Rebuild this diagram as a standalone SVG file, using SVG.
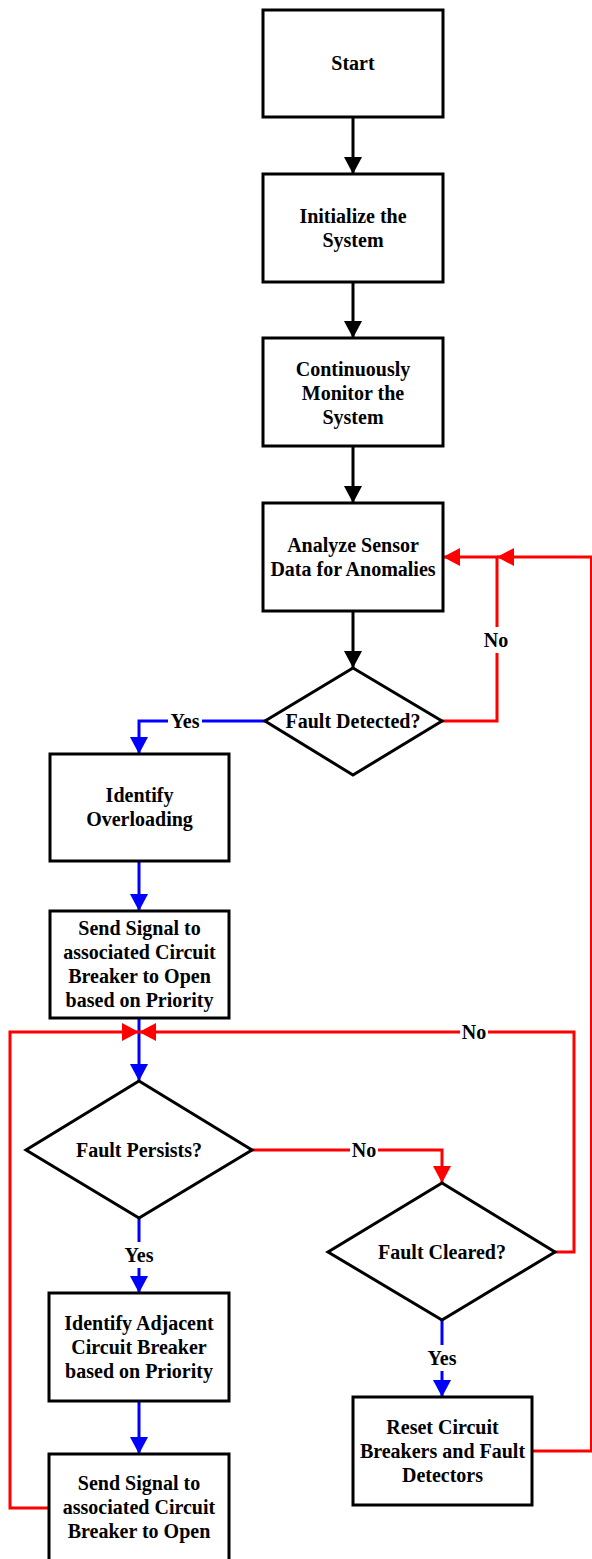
<svg xmlns="http://www.w3.org/2000/svg" width="592" height="1559" viewBox="0 0 592 1559">
<style>
.box{fill:#fff;stroke:#000;stroke-width:3}
.t{font-family:"Liberation Serif","Times New Roman",serif;font-weight:bold;font-size:20px;text-anchor:middle;fill:#000}
.k{fill:none;stroke:#000;stroke-width:3}
.b{fill:none;stroke:#0000ff;stroke-width:3}
.r{fill:none;stroke:#ff0000;stroke-width:3}
.bg{fill:#fff}
</style>
<defs>
<marker id="ak" markerUnits="userSpaceOnUse" markerWidth="18" markerHeight="18" refX="17" refY="9" orient="auto"><path d="M0,0 L17,9 L0,18 z" fill="#000"/></marker>
<marker id="ab" markerUnits="userSpaceOnUse" markerWidth="18" markerHeight="18" refX="17" refY="9" orient="auto"><path d="M0,0 L17,9 L0,18 z" fill="#0000ff"/></marker>
<marker id="ar" markerUnits="userSpaceOnUse" markerWidth="18" markerHeight="18" refX="17" refY="9" orient="auto"><path d="M0,0 L17,9 L0,18 z" fill="#ff0000"/></marker>
</defs>
<g id="connectors">
<path class="k" d="M353,117 V174" marker-end="url(#ak)"/>
<path class="k" d="M353,282 V338" marker-end="url(#ak)"/>
<path class="k" d="M353,446 V503" marker-end="url(#ak)"/>
<path class="k" d="M353,611 V668" marker-end="url(#ak)"/>
<path class="r" d="M442,721 H497 V557 H443" marker-end="url(#ar)"/>
<path class="b" d="M265,721 H139 V754" marker-end="url(#ab)"/>
<path class="b" d="M139,861 V911" marker-end="url(#ab)"/>
<path class="b" d="M139,1018 V1081" marker-end="url(#ab)"/>
<path class="r" d="M252,1150 H442 V1183" marker-end="url(#ar)"/>
<path class="b" d="M139,1218 V1293" marker-end="url(#ab)"/>
<path class="b" d="M139,1401 V1454" marker-end="url(#ab)"/>
<path class="r" d="M49,1508 H10 V1032 H139" marker-end="url(#ar)"/>
<path class="r" d="M555,1252 H574 V1032 H139" marker-end="url(#ar)"/>
<path class="b" d="M442,1320 V1397" marker-end="url(#ab)"/>
<path class="r" d="M532,1451 H591.5 V557 H497" marker-end="url(#ar)"/>
<rect class="bg" x="482" y="627" width="28" height="26"/>
<text class="t" x="496" y="647">No</text>
<rect class="bg" x="168" y="708" width="34" height="26"/>
<text class="t" x="185" y="728">Yes</text>
<rect class="bg" x="350" y="1137" width="28" height="26"/>
<text class="t" x="364" y="1157">No</text>
<rect class="bg" x="122" y="1242" width="34" height="26"/>
<text class="t" x="139" y="1262">Yes</text>
<rect class="bg" x="460" y="1019" width="28" height="26"/>
<text class="t" x="474" y="1039">No</text>
<rect class="bg" x="425" y="1345" width="34" height="26"/>
<text class="t" x="442" y="1365">Yes</text>
</g>
<g id="start"><rect class="box" x="263" y="10" width="180" height="107"/><text class="t" x="353" y="70">Start</text></g>
<g id="init"><rect class="box" x="263" y="174" width="180" height="108"/><text class="t" x="353" y="223">Initialize the</text><text class="t" x="353" y="247">System</text></g>
<g id="monitor"><rect class="box" x="263" y="338" width="180" height="108"/><text class="t" x="353" y="376">Continuously</text><text class="t" x="353" y="400">Monitor the</text><text class="t" x="353" y="424">System</text></g>
<g id="analyze"><rect class="box" x="263" y="503" width="180" height="108"/><text class="t" x="353" y="552">Analyze Sensor</text><text class="t" x="353" y="576">Data for Anomalies</text></g>
<g id="faultDetected"><polygon class="box" points="353,668 442,721 353,775 265,721"/><text class="t" x="353" y="728">Fault Detected?</text></g>
<g id="overloading"><rect class="box" x="50" y="754" width="179" height="107"/><text class="t" x="139.5" y="802">Identify</text><text class="t" x="139.5" y="826">Overloading</text></g>
<g id="sendSignal1"><rect class="box" x="50" y="911" width="179" height="107"/><text class="t" x="139.5" y="935">Send Signal to</text><text class="t" x="139.5" y="959">associated Circuit</text><text class="t" x="139.5" y="983">Breaker to Open</text><text class="t" x="139.5" y="1007">based on Priority</text></g>
<g id="faultPersists"><polygon class="box" points="139,1081 252,1150 139,1218 26,1150"/><text class="t" x="139" y="1157">Fault Persists?</text></g>
<g id="faultCleared"><polygon class="box" points="442,1183 555,1252 442,1320 328,1252"/><text class="t" x="442" y="1259">Fault Cleared?</text></g>
<g id="adjacent"><rect class="box" x="49" y="1293" width="180" height="108"/><text class="t" x="139" y="1330">Identify Adjacent</text><text class="t" x="139" y="1354">Circuit Breaker</text><text class="t" x="139" y="1378">based on Priority</text></g>
<g id="sendSignal2"><rect class="box" x="49" y="1454" width="180" height="107"/><text class="t" x="139" y="1490">Send Signal to</text><text class="t" x="139" y="1514">associated Circuit</text><text class="t" x="139" y="1538">Breaker to Open</text></g>
<g id="reset"><rect class="box" x="353" y="1397" width="179" height="108"/><text class="t" x="442.5" y="1434">Reset Circuit</text><text class="t" x="442.5" y="1458">Breakers and Fault</text><text class="t" x="442.5" y="1482">Detectors</text></g>
</svg>
